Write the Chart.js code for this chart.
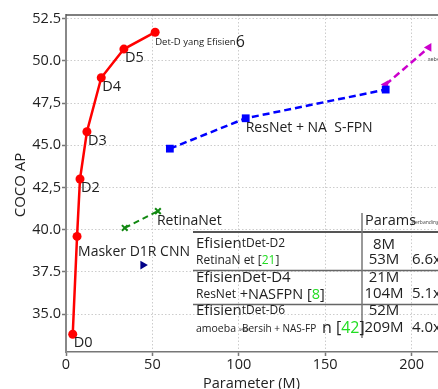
<!DOCTYPE html>
<html><head><meta charset="utf-8">
<script src="https://cdn.jsdelivr.net/npm/chart.js@4"></script>
<style>
html,body{margin:0;padding:0;overflow:hidden;background:#fff;width:438px;height:389px}
#wrap{position:absolute;left:0;top:0;width:460px;height:389px}
</style>
</head><body><div id="wrap"><canvas id="c" width="460" height="389"></canvas></div>
<script>
// ---- data ----
const effParams = [3.9, 6.4, 8.1, 12.1, 20.4, 33.5, 51.6];
const effAP     = [33.8, 39.6, 43.0, 45.8, 49.0, 50.7, 51.7];
const effLabels = ["D0", "", "D2", "D3", "D4", "D5", ""];
const nasParams = [60.1, 104, 185];
const nasAP     = [44.8, 46.6, 48.3];
const amoebaParams = [185, 210];
const amoebaAP     = [48.6, 50.8];
const retinaParams = [34, 53.2];
const retinaAP     = [40.1, 41.1];
const maskParams = [44.5];
const maskAP     = [37.9];
const xTickValues = [0, 50, 100, 150, 200];
const xTickLabels = ["0", "50", "100", "150", "200"];
const yTickValues = [35, 37.5, 40, 42.5, 45, 47.5, 50, 52.5];
const yTickLabels = ["35.0", "37.5", "40.0", "42,5", "45.0", "47,5", "50.0", "52.5"];

const pts = (xs, ys) => xs.map((x, i) => ({x, y: ys[i]}));
const FONT = '"Open Sans", "Noto Sans", sans-serif';

function run(ctx, x, y, segs) {
  let cx = x;
  for (const [t, s, c] of segs) {
    ctx.font = s + 'px ' + FONT;
    ctx.fillStyle = c || '#222';
    ctx.fillText(t, cx, y);
    cx += ctx.measureText(t).width;
  }
  return cx;
}

const annot = {
  id: 'annot',
  afterDraw(chart) {
    const ctx = chart.ctx, a = chart.chartArea;
    ctx.save();
    // frame top
    ctx.strokeStyle = '#555'; ctx.lineWidth = 1.5;
    ctx.beginPath(); ctx.moveTo(a.left, a.top); ctx.lineTo(a.right, a.top); ctx.stroke();
    ctx.textBaseline = 'middle'; ctx.textAlign = 'left';
    const m0 = chart.getDatasetMeta(0).data;
    effLabels.forEach((l, i) => { if (l) run(ctx, m0[i].x + 1, m0[i].y + 9, [[l, 14.5]]); });
    // D6
    const p6 = m0[6];
    run(ctx, p6.x, p6.y + 10, [["Det-D yang Efisien", 9.5], ["6", 16]]);
    // D1 / mask
    run(ctx, m0[1].x + 1, m0[1].y + 16, [["Masker D1R CNN", 14]]);
    const m1 = chart.getDatasetMeta(1).data;
    run(ctx, m1[1].x, m1[1].y + 10, [["ResNet + NA  S-FPN", 14]]);
    const m3 = chart.getDatasetMeta(3).data;
    run(ctx, m3[1].x - 1, m3[1].y + 10, [["RetinaNet", 14]]);
    const m2 = chart.getDatasetMeta(2).data;
    run(ctx, m2[1].x - 1, m2[1].y + 12, [["sebe", 5.5, '#444']]);
    // axis titles
    run(ctx, 203, 384, [["Parameter (M)", 14.5]]);
    ctx.save(); ctx.translate(21, 185); ctx.rotate(-Math.PI / 2); ctx.textAlign = 'center';
    ctx.font = '15px ' + FONT; ctx.fillStyle = '#222'; ctx.fillText("COCO AP", 0, 0); ctx.restore();
    // table
    ctx.strokeStyle = '#555'; ctx.lineWidth = 2;
    ctx.beginPath(); ctx.moveTo(193, 232); ctx.lineTo(460, 232); ctx.stroke();
    ctx.strokeStyle = '#666'; ctx.lineWidth = 1.5;
    ctx.beginPath(); ctx.moveTo(193, 270.5); ctx.lineTo(460, 270.5); ctx.stroke();
    ctx.beginPath(); ctx.moveTo(193, 304.5); ctx.lineTo(460, 304.5); ctx.stroke();
    ctx.strokeStyle = '#777'; ctx.lineWidth = 1.5;
    ctx.beginPath(); ctx.moveTo(362, 213); ctx.lineTo(362, 338); ctx.stroke();
    const G = '#22dd22';
    run(ctx, 365, 221, [["Params", 14.5]]);
    run(ctx, 412, 223, [["Perbandingan", 5, '#444']]);
    run(ctx, 196, 244, [["Efisien", 15], ["tDet-D2", 12]]);
    run(ctx, 196, 261, [["RetinaN et [", 12], ["21", 12, G], ["]", 12]]);
    run(ctx, 196, 278, [["EfisienDet-D4", 15]]);
    run(ctx, 196, 295, [["ResNet", 12], [" +NASFPN [", 14.5], ["8", 14.5, G], ["]", 14.5]]);
    run(ctx, 196, 311, [["Efisien", 15], ["tDet-D6", 12]]);
    const ax = run(ctx, 196, 329, [["amoeba ", 10.5]]);
    run(ctx, ax, 330, [["sebe", 5, '#444']]);
    run(ctx, 242, 329, [["Bersih + NAS-FP", 10]]);
    run(ctx, 322, 328, [["n [", 16], ["42", 16, G], ["]", 16]]);
    ctx.textAlign = 'center';
    const nums = [["8M", 245], ["53M", 260], ["21M", 278], ["104M", 294], ["52M", 311], ["209M", 328]];
    nums.forEach(([t, y]) => { ctx.font = '15px ' + FONT; ctx.fillStyle = '#222'; ctx.fillText(t, 384, y); });
    ctx.textAlign = 'left';
    [["6.6x", 260], ["5.1x", 294], ["4.0x", 328]].forEach(([t, y]) => run(ctx, 412, y, [[t, 15]]));
    ctx.restore();
  }
};

new Chart(document.getElementById('c'), {
  type: 'scatter',
  data: {
    datasets: [
      {data: pts(effParams, effAP), showLine: true, borderColor: '#ff0000', backgroundColor: '#ff0000',
       borderWidth: 2.5, pointRadius: 4.5, pointStyle: 'circle', pointBorderWidth: 0},
      {data: pts(nasParams, nasAP), showLine: true, borderColor: '#0000ff', backgroundColor: '#0000ff',
       borderWidth: 2.5, borderDash: [7, 4], pointRadius: 5.5, pointStyle: 'rect', pointBorderWidth: 0},
      {data: pts(amoebaParams, amoebaAP), showLine: true, borderColor: '#cc00cc', backgroundColor: '#cc00cc',
       borderWidth: 2.5, borderDash: [7, 4], pointRadius: 5, pointStyle: 'triangle', rotation: -90, pointBorderWidth: 0},
      {data: pts(retinaParams, retinaAP), showLine: true, borderColor: '#118811', backgroundColor: '#118811',
       borderWidth: 2, borderDash: [6, 4], pointRadius: 4, pointStyle: 'crossRot', pointBorderWidth: 2},
      {data: pts(maskParams, maskAP), showLine: false, borderColor: '#000088', backgroundColor: '#000088',
       pointRadius: 5, pointStyle: 'triangle', rotation: 90, pointBorderWidth: 0}
    ]
  },
  options: {
    responsive: false, animation: false, devicePixelRatio: 1,
    layout: {autoPadding: false, padding: {top: 15, right: 0, left: 0, bottom: 0}},
    plugins: {legend: {display: false}, tooltip: {enabled: false}},
    scales: {
      x: {type: 'linear', min: 0, max: 228,
        afterBuildTicks: a => { a.ticks = xTickValues.map(v => ({value: v})); },
        afterFit: a => { a.height = 37; },
        ticks: {callback: (v, i) => xTickLabels[i], font: {family: FONT, size: 14.5}, color: '#222', padding: 0, maxRotation: 0, autoSkip: false},
        grid: {color: '#cccccc', lineWidth: 1, tickLength: 4, tickColor: '#777', tickWidth: 1.5},
        border: {display: true, color: '#777', width: 1.5, dash: [1.5, 2]}
      },
      y: {type: 'linear', min: 32.75, max: 52.72,
        afterBuildTicks: a => { a.ticks = yTickValues.map(v => ({value: v})); },
        afterFit: a => { a.width = 66; },
        ticks: {callback: (v, i) => yTickLabels[i], font: {family: FONT, size: 14.5}, color: '#222', padding: 1, autoSkip: false},
        grid: {color: '#cccccc', lineWidth: 1, tickLength: 4, tickColor: '#777', tickWidth: 1.5},
        border: {display: true, color: '#888', width: 2, dash: [1.5, 2]}
      }
    }
  },
  plugins: [annot]
});
</script></body></html>
